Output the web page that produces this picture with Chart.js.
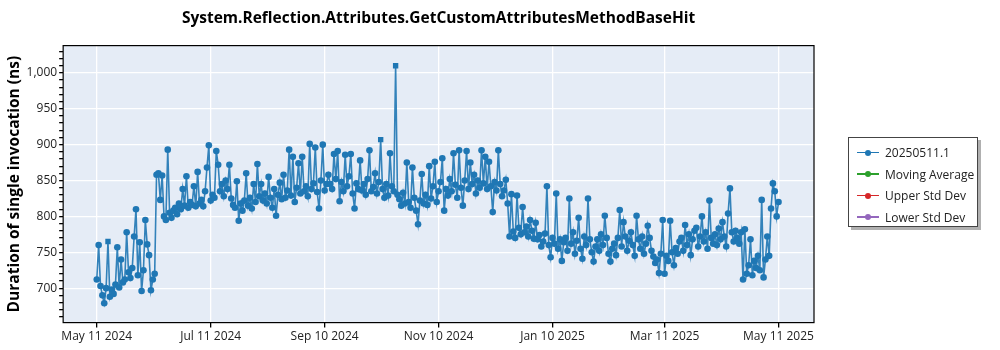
<!DOCTYPE html>
<html>
<head>
<meta charset="utf-8">
<script src="https://cdn.jsdelivr.net/npm/chart.js@4"></script>
<style>
  body { margin: 0; background: #fff; }
  #wrap { position: relative; width: 1000px; height: 350px; }
  #legend {
    position: absolute; left: 848px; top: 137px; width: 130px; height: 90px;
    border: 1px solid #444; background: #fff; box-shadow: 3px 3px 0 #b0b0b0;
    font-family: "Open Sans", sans-serif; font-size: 12px; color: #222;
    box-sizing: border-box; padding-top: 4px;
  }
  .item { height: 21.5px; display: flex; align-items: center; }
  .sym { position: relative; width: 22px; height: 10px; margin: 0 6px 0 8px; }
  .sym .ln { position: absolute; left: 0; right: 0; top: 4px; height: 1.5px; }
  .sym .dt { position: absolute; left: 8px; top: 2px; width: 6px; height: 6px; border-radius: 50%; }
</style>
</head>
<body>
<div id="wrap">
  <canvas id="myChart"></canvas>
  <div id="legend"></div>
</div>
<script>
// one run per day, starting May 11 2024 (day 0)
const durations = [
  712, 760, 703, 690, 679, 700, 765, 688, 698, 692, 705, 757, 701, 740, 708, 712, 778,
  722, 714, 728, 772, 810, 718, 764, 696, 725, 795, 761, 746, 697, 712, 720,
  858, 860, 823, 857, 800, 795, 893, 805, 798,
  808, 812, 803, 818, 810, 838, 815, 856, 812, 820, 816, 842, 814, 862, 818, 823, 814, 835, 868, 899,
  822, 830, 826, 891, 872, 835, 845, 828, 850, 838,
  872, 825, 816, 812, 849, 794, 818, 808, 822, 860, 815, 826, 811, 845, 820, 873,
  828, 845, 822, 832, 818, 855, 826, 812, 838, 801, 830, 847, 824, 858, 826, 836, 893, 829, 883, 820, 840, 874, 832, 883,
  835, 842, 828, 901, 838, 846, 896, 834, 811, 850, 900, 836, 845, 858,
  845, 838, 887, 852, 891, 821, 848, 835, 886, 842, 856, 887, 832, 811, 846, 838,
  878, 836, 845, 830, 852, 892, 835, 841, 860, 832, 848, 907,
  838, 826, 845, 829, 888, 842, 835, 1010,
  830, 824, 815, 833, 818, 875, 820, 812, 868, 826, 808, 789,
  822, 859, 818, 830, 816, 870, 825, 842, 876, 820, 835,
  848, 881, 808, 838, 829, 852, 835, 888, 844, 826, 892, 840, 815, 850, 891, 838, 875,
  845, 858, 832, 850, 840, 892, 846, 883, 838, 876, 842, 806, 848, 836, 892,
  845, 828, 836, 851, 818,
  772, 831, 779, 770, 829, 784, 775, 813, 778, 786, 772, 795, 780, 769, 791,
  768, 774, 758, 765, 776, 842, 760, 743, 770, 762, 832, 755, 768, 738, 764,
  770, 752, 825, 762, 778, 748, 766, 798, 755, 741, 772, 760, 825, 768, 750,
  737, 758, 768, 752, 775, 760, 801, 770, 748, 737, 755, 762, 746, 770, 809, 758, 792, 772, 752, 766,
  778, 760, 745, 801, 768, 755, 772, 748, 762, 787, 770, 752, 744, 735, 740, 721, 748,
  795, 720, 745, 738, 794, 750, 732, 756,
  748, 765, 770, 752, 788, 760, 775, 746, 768, 780, 784, 758, 772, 800, 765, 778, 755, 822, 770, 762,
  775, 760, 783, 768, 792, 772, 758, 804, 839, 778, 765, 780, 770, 762, 778,
  712, 782, 720, 732, 768, 718, 738, 728, 745, 725, 823, 715, 740,
  772, 745, 811, 846, 835, 800, 820
];
// runs drawn with a square marker
const flaggedDays = [6, 152, 160];

const seriesNames = ['20250511.1', 'Moving Average', 'Upper Std Dev', 'Lower Std Dev'];
const seriesColors = ['#1f77b4', '#2ca02c', '#d62728', '#9467bd'];

const xTickDays = [0, 61, 122, 183, 244, 304, 365];
const xTickLabels = ['May 11 2024', 'Jul 11 2024', 'Sep 10 2024', 'Nov 10 2024', 'Jan 10 2025', 'Mar 11 2025', 'May 11 2025'];
const yMajorTicks = [700, 750, 800, 850, 900, 950, 1000];

const mainPoints = durations.map((v, i) => ({ x: i, y: v }));

const datasets = seriesNames.map((name, k) => ({
  label: name,
  data: k === 0 ? mainPoints : [],
  borderColor: k === 0 ? 'rgba(31,119,180,0.9)' : seriesColors[k],
  backgroundColor: seriesColors[k],
  borderWidth: 1.6,
  pointRadius: ctx => flaggedDays.includes(ctx.dataIndex) ? 3.8 : 3.3,
  pointBorderWidth: 0,
  pointStyle: ctx => flaggedDays.includes(ctx.dataIndex) ? 'rect' : 'circle',
  tension: 0
}));

const plotFrame = {
  id: 'plotFrame',
  beforeDraw(chart) {
    const a = chart.chartArea, c = chart.ctx;
    c.save();
    c.fillStyle = '#e5ecf6';
    c.fillRect(a.left, a.top, a.right - a.left, a.bottom - a.top);
    c.restore();
  },
  afterDraw(chart) {
    const a = chart.chartArea, c = chart.ctx;
    c.save();
    c.strokeStyle = '#000';
    c.lineWidth = 1.2;
    c.strokeRect(a.left, a.top, a.right - a.left, a.bottom - a.top);
    c.restore();
  }
};

const config = {
  type: 'line',
  data: { datasets },
  options: {
    responsive: true,
    maintainAspectRatio: false,
    animation: false,
    layout: { padding: { right: 186, top: 4, bottom: 4, left: 5 } },
    plugins: {
      legend: { display: false },
      tooltip: { enabled: false },
      title: {
        display: true,
        fullSize: false,
        text: 'System.Reflection.Attributes.GetCustomAttributesMethodBaseHit',
        color: '#000',
        font: { family: 'Open Sans', size: 15.5, weight: 'bold' },
        padding: { top: 5, bottom: 18 }
      }
    },
    scales: {
      x: {
        type: 'linear',
        min: -18,
        max: 384,
        afterBuildTicks: axis => { axis.ticks = xTickDays.map(v => ({ value: v })); },
        ticks: {
          autoSkip: false,
          maxRotation: 0,
          color: '#222',
          font: { family: 'Open Sans', size: 12 },
          padding: 2,
          callback: v => xTickLabels[xTickDays.indexOf(v)]
        },
        grid: { color: '#fff', lineWidth: 1.3, tickColor: '#000', tickLength: 5, drawOnChartArea: true },
        border: { display: false }
      },
      y: {
        min: 652,
        max: 1038,
        afterBuildTicks: axis => {
          const t = [];
          for (let v = 660; v <= 1030; v += 10) t.push({ value: v });
          axis.ticks = t;
        },
        ticks: {
          autoSkip: false,
          color: '#222',
          font: { family: 'Open Sans', size: 12 },
          padding: 2,
          callback: v => yMajorTicks.includes(v) ? v.toLocaleString('en-US') : ''
        },
        grid: {
          color: ctx => yMajorTicks.includes(ctx.tick && ctx.tick.value) ? '#fff' : 'rgba(0,0,0,0)',
          lineWidth: 1.3,
          tickColor: '#000',
          tickLength: 4
        },
        border: { display: false },
        title: {
          display: true,
          text: 'Duration of single invocation (ns)',
          color: '#000',
          font: { family: 'Open Sans', size: 15.5, weight: 'bold' },
          padding: { top: 0, bottom: 1 }
        }
      }
    }
  },
  plugins: [plotFrame]
};

new Chart(document.getElementById('myChart'), config);

// legend box
const legend = document.getElementById('legend');
seriesNames.forEach((name, k) => {
  const row = document.createElement('div');
  row.className = 'item';
  row.innerHTML = '<span class="sym"><span class="ln" style="background:' + seriesColors[k] +
    '"></span><span class="dt" style="background:' + seriesColors[k] + '"></span></span><span>' + name + '</span>';
  legend.appendChild(row);
});
</script>
</body>
</html>
